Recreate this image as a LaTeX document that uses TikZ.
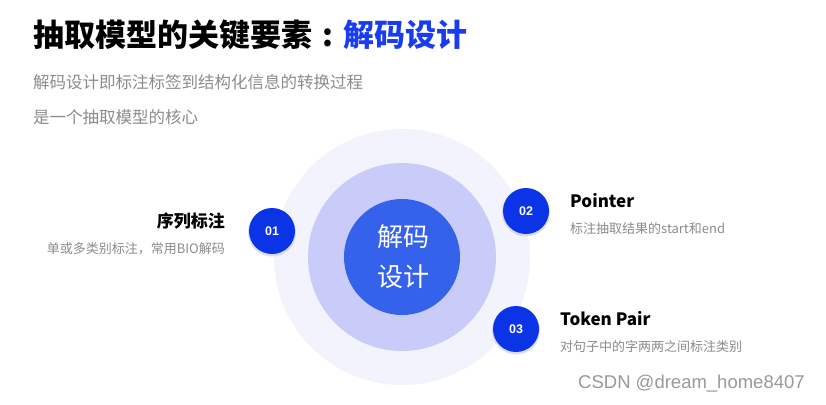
\documentclass[tikz,border=0pt]{standalone}
\usepackage{fontspec}
\setmainfont{Noto Sans CJK SC}
\newfontfamily\cjk{Noto Sans CJK SC}
\newfontfamily\wmfont{Liberation Sans}
\newfontfamily\numfont{Liberation Sans}
\definecolor{titleblue}{HTML}{1A3CF0}
\definecolor{dotblue}{HTML}{0A34E6}
\definecolor{coreblue}{HTML}{3562EA}
\definecolor{midring}{HTML}{C9CCF8}
\definecolor{outring}{HTML}{F2F3FD}
\definecolor{subgray}{HTML}{8C8C8C}
\definecolor{wmgray}{HTML}{999999}
\definecolor{shadowc}{HTML}{C4C8E4}
\begin{document}
\begin{tikzpicture}[x=1pt,y=-1pt,
  numdot/.style={circle,fill=dotblue,minimum size=46pt,inner sep=0pt,text=white,font=\numfont\bfseries\fontsize{12.5}{12.5}\selectfont},
  dotshadow/.style={circle,fill=shadowc,opacity=0.6,minimum size=48pt,inner sep=0pt},
  headtext/.style={inner sep=0pt,font=\cjk\bfseries\fontsize{17}{17}\selectfont,text=black},
  subtext/.style={inner sep=0pt,font=\cjk\fontsize{13}{13}\selectfont,text=subgray},
  introtext/.style={inner sep=0pt,font=\cjk\fontsize{16.5}{16.5}\selectfont,text=subgray}]
\path[use as bounding box] (0,0) rectangle (826,404);
\fill[white] (0,0) rectangle (826,404);
% title
\node[inner sep=0pt,anchor=base west,font=\cjk\bfseries\fontsize{31}{31}\selectfont] (title) at (33,47) {抽取模型的关键要素\makebox[31pt][c]{:}\textcolor{titleblue}{解码设计}};
\node[introtext,anchor=base west] (intro1) at (33,88) {解码设计即标注标签到结构化信息的转换过程};
\node[introtext,anchor=base west] (intro2) at (33,123) {是一个抽取模型的核心};
% circles
\node[circle,fill=outring,minimum size=256pt,inner sep=0pt] (outer) at (402,257) {};
\node[circle,fill=midring,minimum size=188pt,inner sep=0pt] (mid) at (402,257) {};
\node[circle,fill=coreblue,minimum size=116pt,inner sep=0pt] (core) at (402,257) {};
\node[inner sep=0pt,text=white,font=\cjk\fontsize{26}{40}\selectfont,align=center] (coretext) at (403,257) {解码\\设计};
% number dots
\node[dotshadow] (sh1) at (272,232.5) {};
\node[dotshadow] (sh2) at (526,212.5) {};
\node[dotshadow] (sh3) at (516,330.5) {};
\node[numdot] (d1) at (272,231) {01};
\node[numdot] (d2) at (526,211) {02};
\node[numdot] (d3) at (516,329) {03};
% labels
\node[headtext,anchor=base east] (h1) at (225,227) {序列标注};
\node[subtext,anchor=base east] (s1) at (225,253) {单或多类别标注，常用BIO解码};
\node[headtext,anchor=base west] (h2) at (570,207) {Pointer};
\node[subtext,anchor=base west] (s2) at (570,233) {标注抽取结果的start和end};
\node[headtext,anchor=base west] (h3) at (560,325) {Token Pair};
\node[subtext,anchor=base west] (s3) at (560,351) {对句子中的字两两之间标注类别};
% watermark
\node[inner sep=0pt,anchor=base west,text=wmgray,font=\wmfont\fontsize{18.5}{18.5}\selectfont] (wm) at (578,388) {CSDN @dream\_home8407};
\end{tikzpicture}
\end{document}
